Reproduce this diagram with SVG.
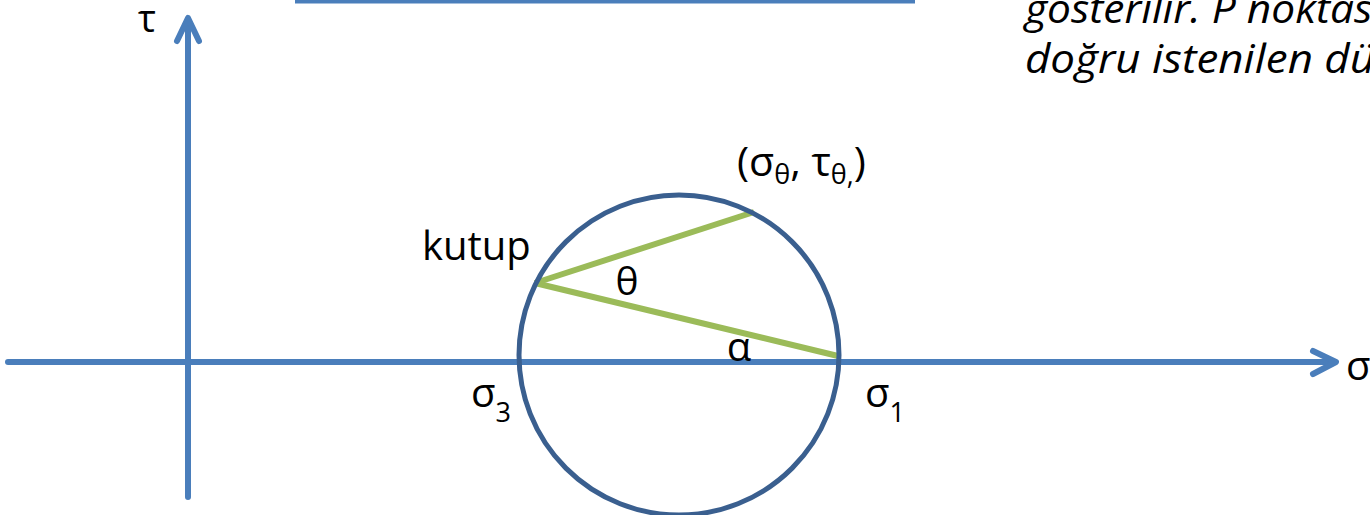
<svg xmlns="http://www.w3.org/2000/svg" width="1370" height="515" viewBox="0 0 1370 515">
<style>
.ax{stroke:#4A7EBB;stroke-width:6;fill:none;stroke-linecap:round;stroke-linejoin:round}
.circ{stroke:#3A5F8F;stroke-width:5;fill:none}
.grn{stroke:#9BBB59;stroke-width:6;fill:none}
.t{font-family:"Open Sans","Liberation Sans",sans-serif;fill:#000}
.it{font-family:"Open Sans","Liberation Sans",sans-serif;font-style:italic;font-size:40px;fill:#000}
</style>
<rect width="1370" height="515" fill="#fff"/>
<line x1="295" y1="1" x2="915" y2="1" stroke="#4A7EBB" stroke-width="5"/>
<text class="it" x="1025" y="23" textLength="358" lengthAdjust="spacingAndGlyphs">gösterilir. P noktası</text>
<text class="it" x="1025" y="73" textLength="350" lengthAdjust="spacingAndGlyphs">doğru istenilen dü</text>
<g id="connectors">
<g id="tau-axis"><line class="ax" x1="188" y1="497" x2="188" y2="20"/><polyline class="ax" points="177,41 188,18 199,41"/></g>
<g id="sigma-axis"><line class="ax" x1="8" y1="362" x2="1334" y2="362"/><polyline class="ax" points="1313,351 1336,362 1313,374"/></g>
<line class="grn" x1="535" y1="283" x2="754" y2="212"/>
<line class="grn" x1="535" y1="283" x2="838" y2="356"/>
</g>
<g id="mohr-circle"><circle class="circ" cx="679" cy="355" r="160"/></g>
<g id="labels">
<text class="t" x="147" y="32" font-size="38" text-anchor="middle">τ</text>
<text class="t" x="1346" y="380" font-size="40">σ</text>
<text class="t" x="422" y="260" font-size="40">kutup</text>
<text class="t" x="737" y="176" font-size="41">(σ<tspan font-size="27" dy="8">θ</tspan><tspan dy="-8">, τ</tspan><tspan font-size="27" dy="8">θ,</tspan><tspan dy="-8">)</tspan></text>
<text class="t" x="627" y="295" font-size="39" text-anchor="middle">θ</text>
<text class="t" x="739" y="361" font-size="40" text-anchor="middle">α</text>
<text class="t" x="471" y="407" font-size="40">σ<tspan font-size="27" dy="15">3</tspan></text>
<text class="t" x="865" y="407" font-size="40">σ<tspan font-size="27" dy="15">1</tspan></text>
</g>
</svg>
